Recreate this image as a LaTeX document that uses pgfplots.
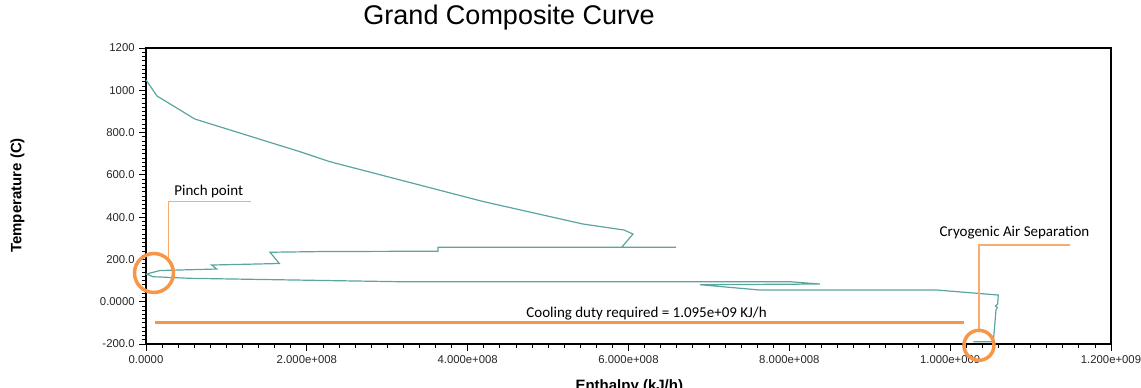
\documentclass[border=0pt]{standalone}
\usepackage{pgfplots}
\pgfplotsset{compat=1.18}
\usepackage{fontspec}
\setmainfont{Liberation Sans}
\newfontfamily\calibri{Carlito}
\definecolor{curve}{RGB}{90,165,160}
\definecolor{orangeA}{RGB}{247,150,70}
\definecolor{orangeB}{RGB}{248,172,112}
\begin{document}
\begin{tikzpicture}
\path[use as bounding box] (0,0) rectangle (855.75pt,-290.25pt);
\begin{axis}[
  at={(109.5pt,-258pt)}, anchor=south west,
  scale only axis, width=723.75pt, height=222pt,
  xmin=0, xmax=1.2e9, ymin=-200, ymax=1200,
  clip=false,
  axis line style={black, line width=0.9pt},
  xtick={0,2e8,4e8,6e8,8e8,1e9,1.2e9},
  xticklabels={0.0000,2.000e+008,4.000e+008,6.000e+008,8.000e+008,1.000e+009,1.200e+009},
  ytick={-200,0,200,400,600,800,1000,1200},
  yticklabels={-200.0,0.0000,200.0,400.0,600.0,800.0,1000,1200},
  scaled x ticks=false, scaled y ticks=false,
  minor x tick num=9, minor y tick num=9,
  tick align=outside, xtick pos=lower, ytick pos=left,
  major tick length=5pt, minor tick length=3.2pt,
  tick style={black, line width=0.6pt},
  tick label style={font=\fontsize{8.5}{10}\selectfont, text=black!85},
  title={Grand Composite Curve},
  title style={at={(axis description cs:0.3762,1.0524)}, anchor=base, font=\fontsize{20.25}{24}\selectfont},
  xlabel={Enthalpy (kJ/h)},
  xlabel style={at={(axis description cs:0.5008,-0.1578)}, anchor=base, font=\bfseries\fontsize{11.25}{13}\selectfont},
  ylabel={Temperature (C)},
  ylabel style={at={(axis description cs:-0.1332,0.5017)}, anchor=center, font=\bfseries\fontsize{11.25}{13}\selectfont},
]
\addplot[curve, line width=0.9pt, mark=none] coordinates {
(0,1049) (1.368e7,973) (6.093e7,863.8) (1.915e8,709.5) (2.288e8,662.2)
(4.191e8,474) (5.434e8,367.5) (5.944e8,339.1) (6.056e8,320.2) (5.915e8,257.3)
(6.591e8,257.3) (3.631e8,257.3) (3.631e8,238.9) (2.201e8,237.4) (1.542e8,234)
(1.658e8,180.7) (8.17e7,173.6) (8.79e7,154.7) (1.74e7,147.6) (6.2e5,131)
(8.7e6,118.3) (5.47e7,110.7) (3.158e8,94.6) (8.008e8,94.6) (8.381e8,83.7)
(6.889e8,80.4) (7.635e8,55.3) (9.832e8,55.3) (1.0598e9,31.7) (1.0591e9,-10.9)
(1.0563e9,-20.3) (1.0586e9,-27.4) (1.057e9,-39.3) (1.0536e9,-189.2) (1.0288e9,-189.2)
};
\draw[orangeB, line width=1.1pt] (axis cs:2.77e7,197) -- (axis cs:2.77e7,473) -- (axis cs:1.302e8,473);
\draw[orangeA, line width=2.6pt] (axis cs:9.9e6,135.8) circle[radius=14.6pt];
\node[anchor=base, inner sep=0pt, font=\calibri\fontsize{11.25}{13}\selectfont] at (axis cs:7.8e7,501.4) {Pinch point};
\draw[orangeA, line width=2.6pt] (axis cs:1.12e7,-97.4) -- (axis cs:1.0172e9,-97.4);
\node[anchor=base, inner sep=0pt, font=\calibri\fontsize{11.25}{13}\selectfont] at (axis cs:6.224e8,-73.8) {Cooling duty required = 1.095e+09 KJ/h};
\draw[orangeB, line width=1.1pt] (axis cs:1.149e9,268.2) -- (axis cs:1.0358e9,268.2) -- (axis cs:1.0358e9,-138.6);
\node[anchor=base, inner sep=0pt, font=\calibri\fontsize{11.25}{13}\selectfont] at (axis cs:1.08e9,310.8) {Cryogenic Air Separation};
\draw[orangeA, line width=2.6pt] (axis cs:1.0358e9,-206.2) circle[radius=11.25pt];
\end{axis}
\end{tikzpicture}
\end{document}
